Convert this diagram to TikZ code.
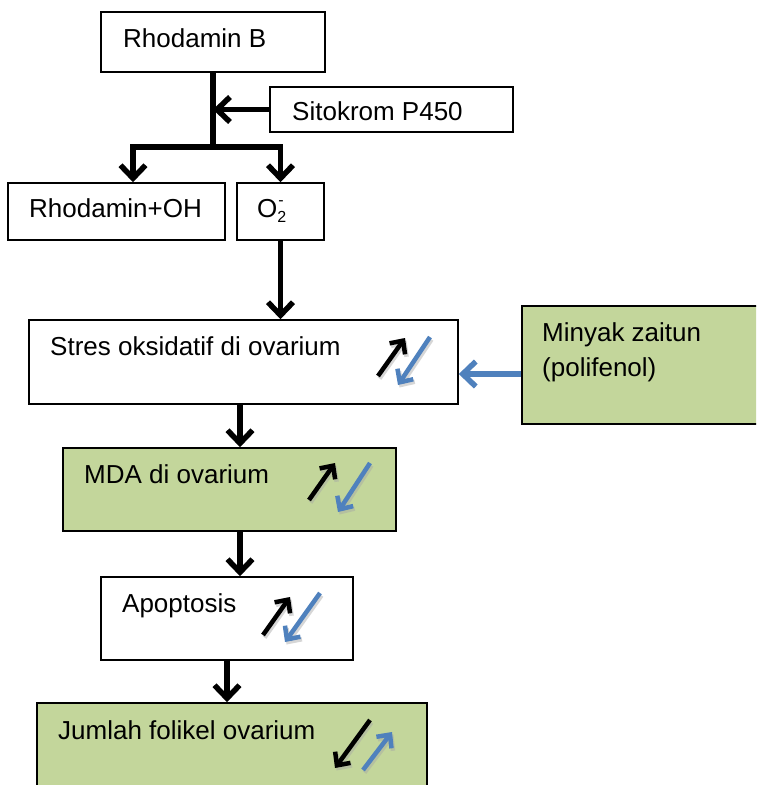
\documentclass[tikz,border=0pt]{standalone}
\usepackage{fontspec}
\setmainfont{Liberation Sans}
\usetikzlibrary{arrows.meta,calc}
\definecolor{boxgreen}{RGB}{195,214,155}
\definecolor{arrowblue}{RGB}{79,129,189}
\begin{document}
\begin{tikzpicture}[x=1pt,y=-1pt,
  box/.style={draw=black,line width=1.6pt,fill=white,inner sep=0pt,rectangle},
  gbox/.style={box,fill=boxgreen},
  txt/.style={inner sep=0pt,anchor=base west,font=\fontsize{26}{35}\selectfont},
  arr/.style={line width=5.5pt,-{Straight Barb[length=13pt,width=25pt]}},
  barr/.style={arr,draw=arrowblue},
  uparr/.style={line width=4.5pt,-{Straight Barb[length=10pt,width=19pt]}},
  bluearr/.style={uparr,draw=arrowblue},
  shad/.style={uparr,draw=black!35,opacity=0.45,shift={(1.5pt,-2.5pt)}}]
\clip (0,0) rectangle (756,785);
\fill[white] (0,0) rectangle (756,785);

% boxes
\node[box,minimum width=224pt,minimum height=60pt] (rhB) at (213,42) {};
\node[box,minimum width=243pt,minimum height=45pt] (sito) at (391.5,109.5) {};
\node[box,minimum width=217pt,minimum height=57pt] (rhOH) at (116.5,211.5) {};
\node[box,minimum width=87pt,minimum height=57pt] (o2) at (280.5,211.5) {};
\node[box,minimum width=429pt,minimum height=84pt] (stres) at (243.5,362) {};
\node[gbox,minimum width=248pt,minimum height=118pt] (minyak) at (646,365) {};
\node[gbox,minimum width=333pt,minimum height=83pt] (mda) at (229.5,489.5) {};
\node[box,minimum width=252pt,minimum height=83pt] (apo) at (227,618.5) {};
\node[gbox,minimum width=390pt,minimum height=97pt] (jml) at (232,751.5) {};

% texts
\node[txt] (trhB) at (123,47) {Rhodamin B};
\node[txt] (tsito) at (292,120.5) {Sitokrom P450};
\node[txt] (trhOH) at (29,217) {Rhodamin+OH};
\node[txt] (to2) at (257,217) {O\raisebox{-5pt}{\fontsize{16}{16}\selectfont 2}\hspace{-8pt}\raisebox{12pt}{\fontsize{16}{16}\selectfont -}};
\node[txt] (tstres) at (50,355) {Stres oksidatif di ovarium};
\node[txt,anchor=north west,align=left] (tminyak) at (542,322.5) {Minyak zaitun\\(polifenol)};
\node[txt] (tmda) at (84,483) {MDA di ovarium};
\node[txt] (tapo) at (122,612.5) {Apoptosis};
\node[txt] (tjml) at (58,739) {Jumlah folikel ovarium};

% connectors
\coordinate (j0) at (213,147);
\coordinate (b1) at (133,147);
\coordinate (b2) at (280.5,147);
\draw[line width=5.5pt] (rhB.south) -- (j0);
\draw[line width=5.5pt] ([xshift=-2.75pt]b1) -- ([xshift=2.75pt]b2);
\draw[arr] (sito.west) -- (sito.west -| j0);
\draw[arr] (b1) -- (b1 |- rhOH.north);
\draw[arr] (b2) -- (o2.north);
\draw[arr] (o2.south) -- (o2.south |- stres.north);
\coordinate (s1) at (240,0);
\draw[arr] (s1 |- stres.south) -- (s1 |- mda.north);
\draw[arr] (s1 |- mda.south) -- (s1 |- apo.north);
\draw[arr] (apo.south) -- (jml.north -| apo.south);
\draw[barr] (minyak.west |- 0,374) -- (stres.east |- 0,374);

% up/down indicators (with soft shadows)
\foreach \a/\b/\c/\d/\e/\f/\g/\h in {378/376/405/338/430/337/398/385,
    309/500/335/463/370/463/338/512,
    263/635/290/597/320/593/285/642,
    370/720/335/768/363/770/392/732}{
  \draw[shad] (\a,\b) -- (\c,\d);
  \draw[shad] (\e,\f) -- (\g,\h);
  \draw[uparr] (\a,\b) -- (\c,\d);
  \draw[bluearr] (\e,\f) -- (\g,\h);
}
\end{tikzpicture}
\end{document}
